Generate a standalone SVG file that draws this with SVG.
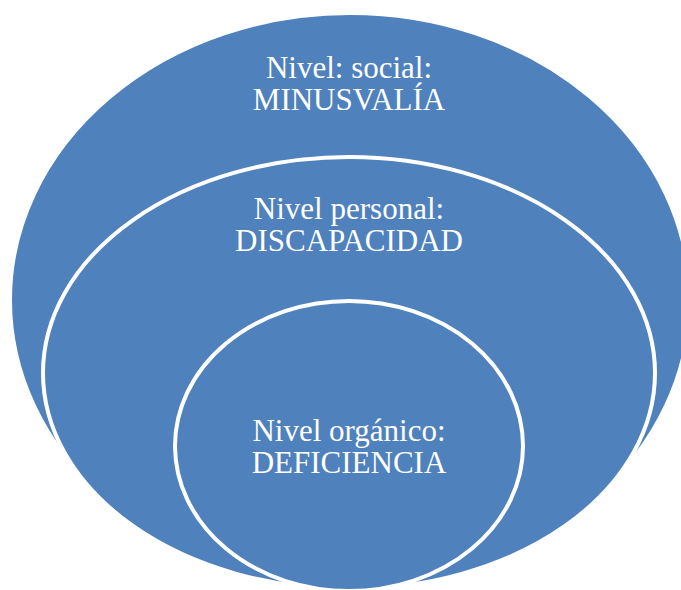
<svg xmlns="http://www.w3.org/2000/svg" width="681" height="590" viewBox="0 0 681 590">
<style>
.ring{fill:#4F81BD;stroke:#FFFFFF;stroke-width:4}
.lbl{font-family:"Liberation Serif","Times New Roman",serif;font-size:31px;fill:#FFFFFF;text-anchor:middle}
</style>
<rect width="681" height="590" fill="#FFFFFF"/>
<g id="outer">
<ellipse class="ring" cx="350" cy="300" rx="340" ry="287"/>
<text class="lbl" x="349" y="78">Nivel: social:</text>
<text class="lbl" x="349" y="110">MINUSVALÍA</text>
</g>
<g id="middle">
<ellipse class="ring" cx="349" cy="373" rx="306" ry="216"/>
<text class="lbl" x="349" y="219">Nivel personal:</text>
<text class="lbl" x="349" y="251">DISCAPACIDAD</text>
</g>
<g id="inner">
<ellipse class="ring" cx="349" cy="446" rx="174" ry="145"/>
<text class="lbl" x="349" y="441">Nivel orgánico:</text>
<text class="lbl" x="349" y="473">DEFICIENCIA</text>
</g>
<g id="connectors"/>
</svg>
